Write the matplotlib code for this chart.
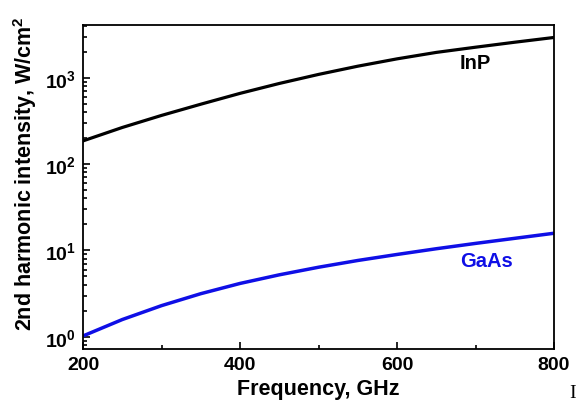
import math
import matplotlib
matplotlib.use("Agg")
import matplotlib.pyplot as plt
from matplotlib.ticker import FixedLocator, LogLocator, FuncFormatter, NullFormatter

plt.rcParams["font.family"] = ["Liberation Sans", "DejaVu Sans"]
plt.rcParams["font.weight"] = "bold"
plt.rcParams["mathtext.fontset"] = "custom"
plt.rcParams["mathtext.rm"] = "Liberation Sans:bold"
plt.rcParams["mathtext.bf"] = "Liberation Sans:bold"

# values
freq = [200, 250, 300, 350, 400, 450, 500, 550, 600, 650, 700, 750, 800]
inp = [186, 266, 367, 495, 661, 861, 1096, 1365, 1660, 1972, 2265, 2588, 2938]
gaas = [1.02, 1.58, 2.29, 3.15, 4.14, 5.21, 6.38, 7.64, 8.97, 10.45, 12.05, 13.8, 15.8]
x_ticks = [200, 400, 600, 800]
x_minor = [300, 500, 700]

BLUE = "#0f0fe6"

fig = plt.figure(figsize=(5.81, 4.06), dpi=100)
ax = fig.add_axes([0.143, 0.138, 0.8105, 0.798])

ax.plot(freq, inp, color="black", lw=2.3)
ax.plot(freq, gaas, color=BLUE, lw=2.5)

ax.set_yscale("log")
ax.set_xlim(200, 800)
ax.set_ylim(0.72, 4100)

ax.xaxis.set_major_locator(FixedLocator(x_ticks))
ax.xaxis.set_minor_locator(FixedLocator(x_minor))
ax.yaxis.set_major_locator(LogLocator(base=10))
ax.yaxis.set_minor_locator(LogLocator(base=10, subs=range(2, 10)))
ax.yaxis.set_major_formatter(FuncFormatter(lambda v, p: r"$\mathbf{10^{%d}}$" % round(math.log10(v))))
ax.yaxis.set_minor_formatter(NullFormatter())

ax.tick_params(which="both", direction="in", labelsize=14, width=1.2, right=False, top=False)
ax.tick_params(which="major", length=5, pad=5)
ax.tick_params(which="minor", length=3)
for s in ax.spines.values():
    s.set_linewidth(1.3)

ax.set_xlabel("Frequency, GHz", fontsize=15.5, fontweight="bold", labelpad=4)
ax.set_ylabel(r"2nd harmonic intensity, W/cm$^\mathbf{2}$", fontsize=15.5, fontweight="bold")
ax.yaxis.set_label_coords(-0.093, 0.545)

ax.text(700, 1500, "InP", fontsize=14.5, fontweight="bold", color="black", ha="center", va="center")
ax.text(714, 7.6, "GaAs", fontsize=14.5, fontweight="bold", color=BLUE, ha="center", va="center")

fig.text(0.986, 0.032, "I", fontsize=14, family="Liberation Serif", fontweight="normal", ha="center", va="center")

fig.savefig("out.png", dpi=100)
